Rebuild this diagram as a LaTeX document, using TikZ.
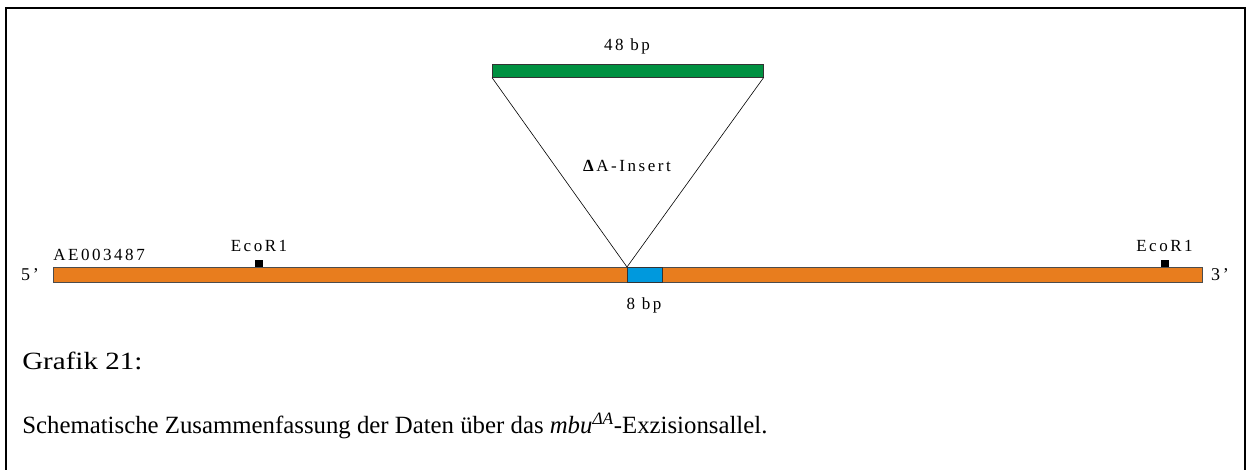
\documentclass[tikz,border=0pt]{standalone}
\usepackage{fontspec,graphicx}
\setmainfont{Liberation Serif}
\newfontfamily\lblfont[LetterSpace=15]{Liberation Serif}
\usetikzlibrary{positioning}
\definecolor{genorange}{RGB}{232,125,30}
\definecolor{insgreen}{RGB}{0,145,65}
\definecolor{gapblue}{RGB}{0,153,221}
\tikzset{
  lbl/.style={anchor=center,inner sep=1pt,font=\lblfont\fontsize{17}{19}\selectfont},
  captext/.style={anchor=west,inner sep=0pt,font=\fontsize{24.8}{28}\selectfont},
  site/.style={fill=black,inner sep=0pt,minimum width=8pt,minimum height=7pt}
}
\begin{document}
\begin{tikzpicture}[x=1pt,y=-1pt,line width=.6pt]
\path[use as bounding box] (0,0) rectangle (1247,470);
% frame, open at the bottom
\draw[line width=2pt] (6,470) -- (6,8) -- (1245,8) -- (1245,470);
% genomic fragment
\draw[fill=genorange,draw=black!70] (53,267) rectangle (1202,282);
\node[draw=black!80,fill=gapblue,inner sep=0pt,minimum width=35pt,minimum height=15pt,anchor=north west] (gap) at (627,267) {};
\node[lbl] (bp8) at (644,305) {8 bp};
\node[lbl,font=\lblfont\fontsize{18}{20}\selectfont] (five) at (30,275) {5’};
\node[lbl,font=\lblfont\fontsize{18}{20}\selectfont] (three) at (1220,275) {3’};
\node[lbl,anchor=west] (acc) at (52,255) {AE003487};
% EcoR1 sites
\node[site] (siteL) at (259,263.5) {};
\node[lbl] (ecoL) at (259,246) {EcoR1};
\node[site] (siteR) at (1164.5,263.5) {};
\node[lbl] (ecoR) at (1164.5,246) {EcoR1};
% insert
\node[draw=black!80,fill=insgreen,inner sep=0pt,minimum width=271pt,minimum height=13pt,anchor=north west] (ins) at (492,64) {};
\node[lbl] (ins48) at (627,46) {48 bp};
\draw (ins.south west) -- (gap.north west) -- (ins.south east);
\node[lbl] (insname) at (627,166) {\textbf{Δ}A-Insert};
% caption
\node[captext] (fig) at (22,361) {\scalebox{1.17}[1]{Grafik 21:}};
\node[captext] (figtext) at (22,426) {Schematische Zusammenfassung der Daten über das \textit{mbu}\textsuperscript{\textit{ΔA}}-Exzisionsallel.};
\end{tikzpicture}
\end{document}
